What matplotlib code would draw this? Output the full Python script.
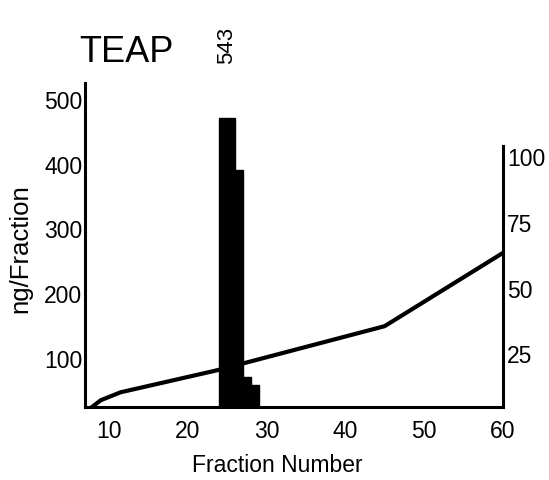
import numpy as np
import matplotlib.pyplot as plt

plt.rcParams['font.family'] = ['Liberation Sans', 'DejaVu Sans']

# bars (ng/Fraction), left axis
fractions = [24, 25, 26, 27, 28]
ng_values = [472, 472, 392, 72, 60]

# line (%), right axis
line_x = [7, 9, 11.5, 23.8, 45, 60]
line_pct = [3, 7.6, 10.6, 19, 35.7, 63.5]

left_ticks = [100, 200, 300, 400, 500]
right_ticks = [25, 50, 75, 100]
x_ticks = [10, 20, 30, 40, 50, 60]

fig = plt.figure(figsize=(5.49, 4.8), dpi=100)
ax = fig.add_axes([0.155, 0.152, 0.761, 0.675])

ax.bar(fractions, ng_values, width=1.0, align='edge', color='black', edgecolor='black')
ax.set_xlim(7, 60)
ax.set_ylim(26, 526)
ax.set_xticks(x_ticks)
ax.set_yticks(left_ticks)
ax.tick_params(axis='y', length=0, labelsize=16.5, pad=2)
ax.tick_params(axis='x', length=0, labelsize=16.5, pad=9)
ax.spines['top'].set_visible(False)
ax.spines['right'].set_visible(False)
ax.spines['left'].set_linewidth(2.2)
ax.spines['bottom'].set_linewidth(2.2)
ax.set_xlabel('Fraction Number', fontsize=16.5)
ax.xaxis.set_label_coords(0.46, -0.146)
ax.set_ylabel('ng/Fraction', fontsize=18.5)
ax.yaxis.set_label_coords(-0.127, 0.49)

ax2 = ax.twinx()
ax2.plot(line_x, line_pct, color='black', linewidth=3)
ax2.set_ylim(5, 128)
ax2.set_yticks(right_ticks)
ax2.spines['top'].set_visible(False)
ax2.spines['left'].set_visible(False)
ax2.spines['bottom'].set_visible(False)
ax2.spines['right'].set_linewidth(2.2)
ax2.spines['right'].set_bounds(5, 104)
ax2.tick_params(axis='y', length=0, labelsize=16.5, pad=3)

fig.text(0.144, 0.89, 'TEAP', fontsize=26, ha='left', va='center')
fig.text(0.413, 0.905, '543', fontsize=16, rotation=90, ha='center', va='center')

fig.savefig('out.png', dpi=100)
